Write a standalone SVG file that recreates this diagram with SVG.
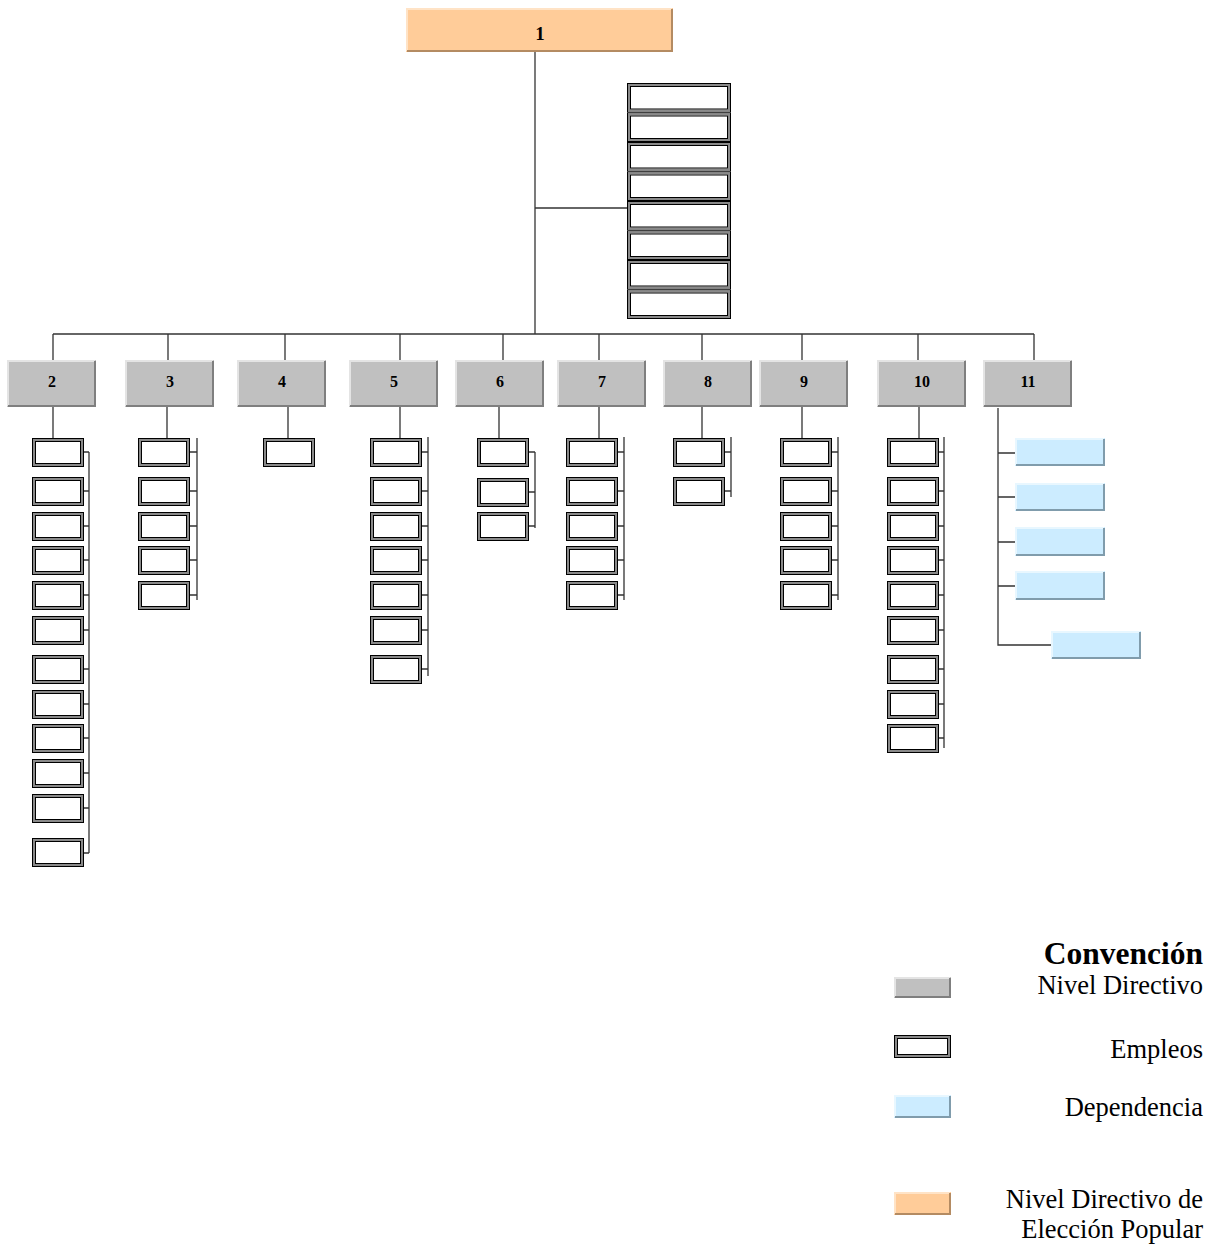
<svg xmlns="http://www.w3.org/2000/svg" xmlns:xlink="http://www.w3.org/1999/xlink" width="1211" height="1245" viewBox="0 0 1211 1245">
<style>
.gray{fill:#C0C0C0}
.orange{fill:#FFCC99}
.blue{fill:#CCECFF}
.hiG{fill:none;stroke:#E4E4E4;stroke-width:2}
.loG{fill:none;stroke:#7F7F7F;stroke-width:2}
.hiO{fill:none;stroke:#FFE3C6;stroke-width:2}
.loO{fill:none;stroke:#B48B62;stroke-width:2}
.hiB{fill:none;stroke:#E8F7FF;stroke-width:2}
.loB{fill:none;stroke:#809CAC;stroke-width:2}
.lbl{font-family:"Liberation Serif","Times New Roman",serif;font-weight:bold;font-size:16px;text-anchor:middle;fill:#000}
.leg{font-family:"Liberation Serif","Times New Roman",serif;font-size:26.5px;text-anchor:end;fill:#000}
.conn line,.conn path{stroke:#333;stroke-width:1.3;fill:none}
</style>
<defs>
<g id="emp">
<rect x="0.5" y="0.5" width="51" height="28" fill="#fff" stroke="#000" stroke-width="1"/>
<rect x="2" y="2" width="48" height="25" fill="none" stroke="#8A8A8A" stroke-width="2"/>
<rect x="3.5" y="3.5" width="45" height="22" fill="none" stroke="#000" stroke-width="1"/>
</g>
<g id="stk">
<rect x="0.5" y="0.5" width="103" height="28.5" fill="#fff" stroke="#000" stroke-width="1"/>
<rect x="2" y="2" width="100" height="25.5" fill="none" stroke="#8A8A8A" stroke-width="2"/>
<rect x="3.5" y="3.5" width="97" height="22.5" fill="none" stroke="#000" stroke-width="1"/>
</g>
</defs>
<rect width="1211" height="1245" fill="#fff"/>

<g id="connectors" class="conn">
<line x1="535" y1="52" x2="535" y2="334"/>
<line x1="535" y1="208" x2="632" y2="208"/>
<line x1="53" y1="334" x2="1034" y2="334"/>
<path d="M53,334V360M168,334V360M285,334V360M400,334V360M503,334V360M599,334V360M702,334V360M802,334V360M918,334V360M1034,334V360"/>
<path d="M53,407V438M167,407V438M288,407V438M400,407V438M499,407V438M599,407V438M702,407V438M802,407V438M919,407V438"/>
<path d="M89,452V853M84,452H89M84,491H89M84,526H89M84,560H89M84,595H89M84,630H89M84,669H89M84,704H89M84,738H89M84,773H89M84,808H89M84,853H89"/>
<path d="M197,438V600M190,452H197M190,491H197M190,526H197M190,560H197M190,595H197"/>
<path d="M428,437V676M422,452H428M422,491H428M422,526H428M422,560H428M422,595H428M422,630H428M422,669H428"/>
<path d="M535,452V528M529,452H535M529,492H535M529,526H535"/>
<path d="M624,437V600M618,452H624M618,491H624M618,526H624M618,560H624M618,595H624"/>
<path d="M731,437V497M725,452H731M725,491H731"/>
<path d="M838,437V600M832,452H838M832,491H838M832,526H838M832,560H838M832,595H838"/>
<path d="M944,437V748M939,452H944M939,491H944M939,526H944M939,560H944M939,595H944M939,630H944M939,669H944M939,704H944M939,738H944"/>
<path d="M998,408V645H1052M998,453H1016M998,497H1016M998,542H1016M998,586H1016"/>
</g>

<g id="node1">
<rect class="orange" x="406" y="8" width="267" height="44"/>
<path class="hiO" d="M407,51V9H672"/>
<path class="loO" d="M672,9V51H407"/>
<text class="lbl" x="540" y="40" style="font-size:19px">1</text>
</g>

<g id="staff">
<use xlink:href="#stk" x="627" y="83"/>
<use xlink:href="#stk" x="627" y="112.5"/>
<use xlink:href="#stk" x="627" y="142"/>
<use xlink:href="#stk" x="627" y="171.5"/>
<use xlink:href="#stk" x="627" y="201"/>
<use xlink:href="#stk" x="627" y="230.5"/>
<use xlink:href="#stk" x="627" y="260"/>
<use xlink:href="#stk" x="627" y="289.5"/>
</g>

<g id="node2">
<rect class="gray" x="7" y="360" width="89" height="47"/>
<path class="hiG" d="M8,406V361H95"/><path class="loG" d="M95,361V406H8"/>
<text class="lbl" x="52" y="387">2</text>
</g>
<g id="node3">
<rect class="gray" x="125" y="360" width="89" height="47"/>
<path class="hiG" d="M126,406V361H213"/><path class="loG" d="M213,361V406H126"/>
<text class="lbl" x="170" y="387">3</text>
</g>
<g id="node4">
<rect class="gray" x="237" y="360" width="89" height="47"/>
<path class="hiG" d="M238,406V361H325"/><path class="loG" d="M325,361V406H238"/>
<text class="lbl" x="282" y="387">4</text>
</g>
<g id="node5">
<rect class="gray" x="349" y="360" width="89" height="47"/>
<path class="hiG" d="M350,406V361H437"/><path class="loG" d="M437,361V406H350"/>
<text class="lbl" x="394" y="387">5</text>
</g>
<g id="node6">
<rect class="gray" x="455" y="360" width="89" height="47"/>
<path class="hiG" d="M456,406V361H543"/><path class="loG" d="M543,361V406H456"/>
<text class="lbl" x="500" y="387">6</text>
</g>
<g id="node7">
<rect class="gray" x="557" y="360" width="89" height="47"/>
<path class="hiG" d="M558,406V361H645"/><path class="loG" d="M645,361V406H558"/>
<text class="lbl" x="602" y="387">7</text>
</g>
<g id="node8">
<rect class="gray" x="663" y="360" width="89" height="47"/>
<path class="hiG" d="M664,406V361H751"/><path class="loG" d="M751,361V406H664"/>
<text class="lbl" x="708" y="387">8</text>
</g>
<g id="node9">
<rect class="gray" x="759" y="360" width="89" height="47"/>
<path class="hiG" d="M760,406V361H847"/><path class="loG" d="M847,361V406H760"/>
<text class="lbl" x="804" y="387">9</text>
</g>
<g id="node10">
<rect class="gray" x="877" y="360" width="89" height="47"/>
<path class="hiG" d="M878,406V361H965"/><path class="loG" d="M965,361V406H878"/>
<text class="lbl" x="922" y="387">10</text>
</g>
<g id="node11">
<rect class="gray" x="983" y="360" width="89" height="47"/>
<path class="hiG" d="M984,406V361H1071"/><path class="loG" d="M1071,361V406H984"/>
<text class="lbl" x="1028" y="387">11</text>
</g>

<g id="emp2">
<use xlink:href="#emp" x="32" y="438"/>
<use xlink:href="#emp" x="32" y="477"/>
<use xlink:href="#emp" x="32" y="512"/>
<use xlink:href="#emp" x="32" y="546"/>
<use xlink:href="#emp" x="32" y="581"/>
<use xlink:href="#emp" x="32" y="616"/>
<use xlink:href="#emp" x="32" y="655"/>
<use xlink:href="#emp" x="32" y="690"/>
<use xlink:href="#emp" x="32" y="724"/>
<use xlink:href="#emp" x="32" y="759"/>
<use xlink:href="#emp" x="32" y="794"/>
<use xlink:href="#emp" x="32" y="838"/>
</g>
<g id="emp3">
<use xlink:href="#emp" x="138" y="438"/>
<use xlink:href="#emp" x="138" y="477"/>
<use xlink:href="#emp" x="138" y="512"/>
<use xlink:href="#emp" x="138" y="546"/>
<use xlink:href="#emp" x="138" y="581"/>
</g>
<g id="emp4">
<use xlink:href="#emp" x="263" y="438"/>
</g>
<g id="emp5">
<use xlink:href="#emp" x="370" y="438"/>
<use xlink:href="#emp" x="370" y="477"/>
<use xlink:href="#emp" x="370" y="512"/>
<use xlink:href="#emp" x="370" y="546"/>
<use xlink:href="#emp" x="370" y="581"/>
<use xlink:href="#emp" x="370" y="616"/>
<use xlink:href="#emp" x="370" y="655"/>
</g>
<g id="emp6">
<use xlink:href="#emp" x="477" y="438"/>
<use xlink:href="#emp" x="477" y="478"/>
<use xlink:href="#emp" x="477" y="512"/>
</g>
<g id="emp7">
<use xlink:href="#emp" x="566" y="438"/>
<use xlink:href="#emp" x="566" y="477"/>
<use xlink:href="#emp" x="566" y="512"/>
<use xlink:href="#emp" x="566" y="546"/>
<use xlink:href="#emp" x="566" y="581"/>
</g>
<g id="emp8">
<use xlink:href="#emp" x="673" y="438"/>
<use xlink:href="#emp" x="673" y="477"/>
</g>
<g id="emp9">
<use xlink:href="#emp" x="780" y="438"/>
<use xlink:href="#emp" x="780" y="477"/>
<use xlink:href="#emp" x="780" y="512"/>
<use xlink:href="#emp" x="780" y="546"/>
<use xlink:href="#emp" x="780" y="581"/>
</g>
<g id="emp10">
<use xlink:href="#emp" x="887" y="438"/>
<use xlink:href="#emp" x="887" y="477"/>
<use xlink:href="#emp" x="887" y="512"/>
<use xlink:href="#emp" x="887" y="546"/>
<use xlink:href="#emp" x="887" y="581"/>
<use xlink:href="#emp" x="887" y="616"/>
<use xlink:href="#emp" x="887" y="655"/>
<use xlink:href="#emp" x="887" y="690"/>
<use xlink:href="#emp" x="887" y="724"/>
</g>

<g id="dep11">
<rect class="blue" x="1015" y="438" width="90" height="28"/><path class="hiB" d="M1016,465V439H1104"/><path class="loB" d="M1104,439V465H1016"/>
<rect class="blue" x="1015" y="483" width="90" height="28"/><path class="hiB" d="M1016,510V484H1104"/><path class="loB" d="M1104,484V510H1016"/>
<rect class="blue" x="1015" y="527" width="90" height="29"/><path class="hiB" d="M1016,555V528H1104"/><path class="loB" d="M1104,528V555H1016"/>
<rect class="blue" x="1015" y="571" width="90" height="29"/><path class="hiB" d="M1016,599V572H1104"/><path class="loB" d="M1104,572V599H1016"/>
<rect class="blue" x="1051" y="631" width="90" height="28"/><path class="hiB" d="M1052,658V632H1140"/><path class="loB" d="M1140,632V658H1052"/>
</g>

<g id="legend">
<text x="1203" y="964" style="font-family:'Liberation Serif','Times New Roman',serif;font-size:31.5px;font-weight:bold;text-anchor:end">Convención</text>
<rect class="gray" x="894" y="977" width="57" height="21"/><path class="hiG" d="M895,997V978H950"/><path class="loG" d="M950,978V997H895"/>
<text class="leg" x="1203" y="994">Nivel Directivo</text>
<rect x="894.5" y="1035.5" width="56" height="22" fill="#fff" stroke="#000"/>
<rect x="896" y="1037" width="53" height="19" fill="none" stroke="#8A8A8A" stroke-width="2"/>
<rect x="897.5" y="1038.5" width="50" height="16" fill="none" stroke="#000"/>
<text class="leg" x="1203" y="1058">Empleos</text>
<rect class="blue" x="894" y="1095" width="57" height="23"/><path class="hiB" d="M895,1117V1096H950"/><path class="loB" d="M950,1096V1117H895"/>
<text class="leg" x="1203" y="1116">Dependencia</text>
<rect class="orange" x="894" y="1192" width="57" height="23"/><path class="hiO" d="M895,1214V1193H950"/><path class="loO" d="M950,1193V1214H895"/>
<text class="leg" x="1203" y="1208">Nivel Directivo de</text>
<text class="leg" x="1203" y="1238">Elección Popular</text>
</g>
</svg>
